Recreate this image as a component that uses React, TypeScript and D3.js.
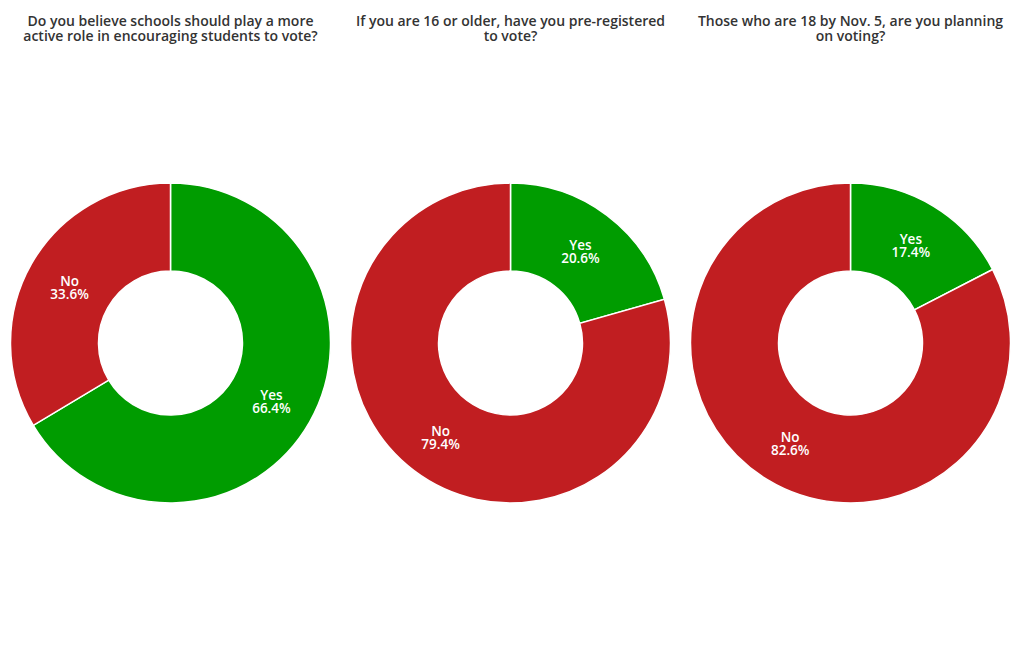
import React from "react";
import * as d3 from "d3";

const titles = [
  ["Do you believe schools should play a more", "active role in encouraging students to vote?"],
  ["If you are 16 or older, have you pre-registered", "to vote?"],
  ["Those who are 18 by Nov. 5, are you planning", "on voting?"],
];
const categories = ["Yes", "No"];
const yesValues = [66.4, 20.6, 17.4];
const noValues = [33.6, 79.4, 82.6];
const colors = ["#009C00", "#C11E21"];

const W = 1020;
const H = 650;
const centersX = [170.5, 510.5, 850.5];
const cy = 343;
const outerR = 160;
const innerR = 72;

export default function App() {
  const pie = d3
    .pie<number>()
    .sort(null)
    .value((d) => d);
  const arc = d3.arc<d3.PieArcDatum<number>>().innerRadius(innerR).outerRadius(outerR);
  const font = "'Open Sans', sans-serif";
  return (
    <svg width={W} height={H} style={{ position: "absolute", left: 0, top: 0, background: "#fff" }}>
      {titles.map((t, i) => (
        <text
          key={"t" + i}
          x={centersX[i]}
          y={26}
          textAnchor="middle"
          fontFamily={font}
          fontWeight={600}
          fontSize={14}
          fill="#333"
        >
          <tspan x={centersX[i]} y={26}>{t[0]}</tspan>
          <tspan x={centersX[i]} y={41}>{t[1]}</tspan>
        </text>
      ))}
      {yesValues.map((yv, i) => {
        const vals = [yv, noValues[i]];
        const arcs = pie(vals);
        return (
          <g key={"p" + i} transform={`translate(${centersX[i]},${cy})`}>
            {arcs.map((a, j) => (
              <path key={j} d={arc(a) || ""} fill={colors[j]} stroke="#fff" strokeWidth={1.5} />
            ))}
            {arcs.map((a, j) => {
              const [x, y] = arc.centroid(a);
              return (
                <text
                  key={"l" + j}
                  textAnchor="middle"
                  fontFamily={font}
                  fontWeight={600}
                  fontSize={13.5}
                  fill="#fff"
                >
                  <tspan x={x} y={y}>{categories[j]}</tspan>
                  <tspan x={x} y={y + 13}>{vals[j].toFixed(1) + "%"}</tspan>
                </text>
              );
            })}
          </g>
        );
      })}
    </svg>
  );
}
